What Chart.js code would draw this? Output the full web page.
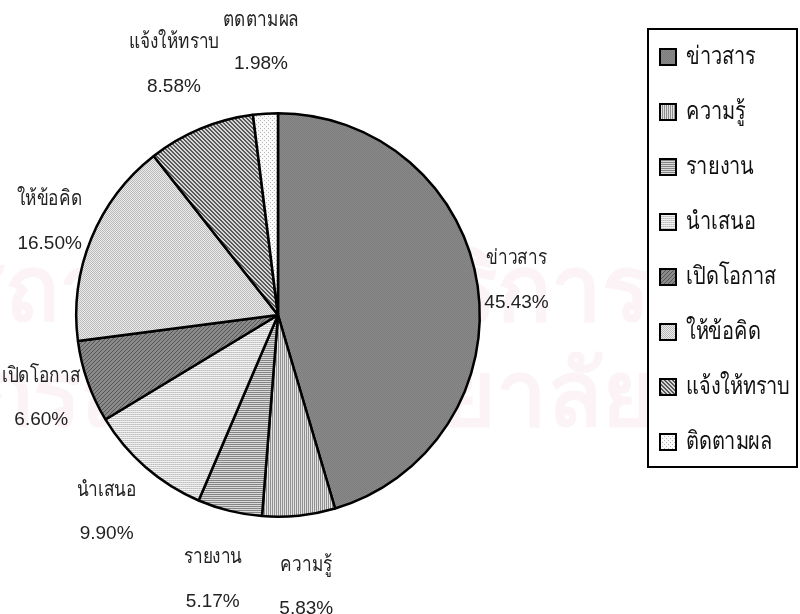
<!DOCTYPE html>
<html lang="th">
<head>
<meta charset="utf-8">
<script src="https://cdn.jsdelivr.net/npm/chart.js@4.4.1/dist/chart.umd.min.js"></script>
<style>
  html, body { margin: 0; padding: 0; background: #fff; }
  canvas { display: block; }
</style>
</head>
<body>
<canvas id="pie" width="800" height="614"></canvas>
<script>
// data
const categories = ['ข่าวสาร', 'ความรู้', 'รายงาน', 'นำเสนอ', 'เปิดโอกาส', 'ให้ข้อคิด', 'แจ้งให้ทราบ', 'ติดตามผล'];
const sliceNames = ['ข่าวสาร', 'ความรู้', 'รายงาน', 'นำเสนอ', 'เปิดโอกาส', 'ให้ข้อคิด', 'แจ้งให้ทราบ', 'ตดตามผล'];
const percents = [45.43, 5.83, 5.17, 9.90, 6.60, 16.50, 8.58, 1.98];

const ctx = document.getElementById('pie').getContext('2d');

// small tiles -> canvas patterns (grey fills like the old excel print)
function tile(w, h, fn) {
    const c = document.createElement('canvas');
    c.width = w; c.height = h;
    const g = c.getContext('2d');
    for (let y = 0; y < h; y++) {
        for (let x = 0; x < w; x++) {
            g.fillStyle = fn(x, y);
            g.fillRect(x, y, 1, 1);
        }
    }
    return ctx.createPattern(c, 'repeat');
}

const fills = [
    tile(2, 2, (x, y) => (x + y) % 2 ? '#8a8a8a' : '#7c7c7c'),          // fine grey
    tile(2, 1, (x, y) => x ? '#e2e2e2' : '#909090'),                      // vertical lines
    tile(1, 2, (x, y) => y ? '#dadada' : '#858585'),                      // horizontal lines
    tile(2, 2, (x, y) => y ? '#f2f2f2' : (x ? '#bdbdbd' : '#d0d0d0')),    // light horizontal
    tile(4, 4, (x, y) => (x + y) % 4 === 3 ? '#555555' : '#8a8a8a'),      // dark diagonal /
    tile(2, 2, (x, y) => (x + y) % 2 ? '#ececec' : '#b9b9b9'),            // dots
    tile(4, 4, (x, y) => (x - y + 4) % 4 === 0 || (x - y + 4) % 4 === 1 ? '#5a5a5a' : '#d6d6d6'), // hatch \
    tile(4, 4, (x, y) => (x % 2 === 0 && y % 2 === 0 && (x + y) % 4 === 0) ? '#b4b4b4' : '#fafafa') // sparse dots
];

// thai text in the print is narrow, squeeze it a bit
function squeezed(c, text, x, y, sx) {
    c.save();
    c.translate(x, y);
    c.scale(sx, 1);
    c.fillText(text, 0, 0);
    c.restore();
}

const watermark = {
    id: 'watermark',
    beforeDraw(chart) {
        const c = chart.ctx;
        c.save();
        c.fillStyle = '#fbf3f6';
        c.textAlign = 'right';
        c.textBaseline = 'middle';
        c.font = 'bold 90px sans-serif';
        c.fillText('สถาบันวิทยบริการ', 650, 295);
        c.fillText('จุฬาลงกรณ์มหาวิทยาลัย', 655, 400);
        c.restore();
    }
};

const NAME_SX = 0.82;
const sliceLabels = {
    id: 'sliceLabels',
    afterDatasetsDraw(chart) {
        const c = chart.ctx;
        const meta = chart.getDatasetMeta(0);
        const nameFont = '21px "Liberation Sans", Arial, sans-serif';
        const pctFont = '19px "Liberation Sans", Arial, sans-serif';
        c.save();
        c.fillStyle = '#222';
        c.textAlign = 'center';
        c.textBaseline = 'middle';
        meta.data.forEach((arc, i) => {
            const p = arc.getProps(['x', 'y', 'startAngle', 'endAngle', 'outerRadius'], true);
            const mid = (p.startAngle + p.endAngle) / 2;
            const dx = Math.cos(mid), dy = Math.sin(mid);
            const name = sliceNames[i];
            const pct = percents[i].toFixed(2) + '%';
            c.font = nameFont;
            const wn = c.measureText(name).width * NAME_SX;
            c.font = pctFont;
            const wp = c.measureText(pct).width;
            const hw = Math.max(wn, wp) / 2;
            const d = p.outerRadius + 6 + Math.hypot(dx * hw, dy * 66);
            const x = p.x + dx * d, y = p.y + dy * d;
            c.font = nameFont;
            squeezed(c, name, x, y - 22, NAME_SX);
            c.font = pctFont;
            c.fillText(pct, x, y + 22);
        });
        c.restore();
    }
};

// legend in a framed box on the right
const boxLegend = {
    id: 'boxLegend',
    afterDraw(chart) {
        const c = chart.ctx;
        const items = chart.options.plugins.legend.labels.generateLabels(chart);
        const left = 648, top = 29, right = chart.width - 3, bottom = 467;
        c.save();
        c.lineWidth = 2;
        c.strokeStyle = '#000';
        c.strokeRect(left, top, right - left, bottom - top);
        c.font = '25px "Liberation Sans", Arial, sans-serif';
        c.textBaseline = 'middle';
        c.textAlign = 'left';
        const step = 55;
        items.forEach((it, i) => {
            const y = 57 + i * step;
            c.fillStyle = it.fillStyle;
            c.fillRect(660, y - 8, 16, 16);
            c.lineWidth = 2;
            c.strokeRect(660, y - 8, 16, 16);
            c.fillStyle = '#111';
            squeezed(c, it.text, 686, y, 0.8);
        });
        c.restore();
    }
};

new Chart(ctx, {
    type: 'pie',
    data: {
        labels: categories,
        datasets: [{
            data: percents,
            backgroundColor: fills,
            borderColor: '#000',
            borderWidth: 2.5
        }]
    },
    options: {
        responsive: false,
        animation: false,
        layout: { padding: { left: 75, right: 319, top: 112, bottom: 96 } },
        plugins: {
            legend: { display: false },
            tooltip: { enabled: false }
        }
    },
    plugins: [watermark, sliceLabels, boxLegend]
});
</script>
</body>
</html>
